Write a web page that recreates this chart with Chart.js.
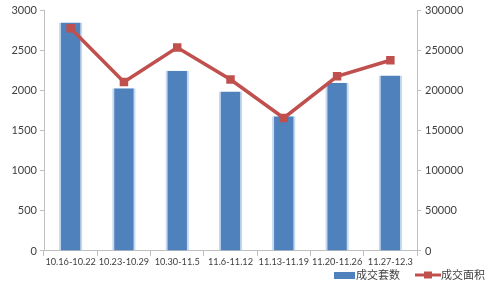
<!DOCTYPE html>
<html>
<head>
<meta charset="utf-8">
<script src="https://cdn.jsdelivr.net/npm/chart.js@4/dist/chart.umd.min.js"></script>
<style>
  html, body { margin: 0; padding: 0; background: #fff; }
  #wrap { width: 493px; height: 289px; }
</style>
</head>
<body>
<div id="wrap"><canvas id="chart" width="493" height="289"></canvas></div>
<script>
const weeks = ['10.16-10.22', '10.23-10.29', '10.30-11.5', '11.6-11.12', '11.13-11.19', '11.20-11.26', '11.27-12.3']
const sets = [2850, 2030, 2250, 1990, 1680, 2100, 2190]
const area = [278000, 211000, 254000, 214000, 166000, 218000, 238000]
const leftTicks = [0, 500, 1000, 1500, 2000, 2500, 3000]
const rightTicks = [0, 50000, 100000, 150000, 200000, 250000, 300000]

const barColor = '#4F81BD'
const lineColor = '#C0504D'
const axisColor = '#BFBFBF'
const textColor = '#404040'
const font = { family: 'Lato, "Noto Sans CJK SC", sans-serif', size: 11 }
const xFont = { family: 'Lato, "Noto Sans CJK SC", sans-serif', size: 9.2 }

// legend in the bottom right corner
const bottomLegend = {
    id: 'bottomLegend',
    afterDraw(chart) {
        const ctx = chart.ctx
        const ds = chart.data.datasets
        const y = 275
        ctx.save()
        ctx.font = '11px "Noto Sans CJK SC", sans-serif'
        ctx.textBaseline = 'middle'
        ctx.fillStyle = barColor
        ctx.fillRect(334, y - 3, 21, 7)
        ctx.fillStyle = textColor
        ctx.fillText(ds[1].label, 356, y)
        ctx.strokeStyle = lineColor
        ctx.lineWidth = 3
        ctx.beginPath()
        ctx.moveTo(415, y)
        ctx.lineTo(441, y)
        ctx.stroke()
        ctx.fillStyle = lineColor
        ctx.fillRect(424, y - 3.5, 8, 7)
        ctx.fillStyle = textColor
        ctx.fillText(ds[0].label, 441, y)
        ctx.restore()
    }
}

const context = document.getElementById('chart').getContext('2d')
const chart = new Chart(context, {
    data: {
        labels: weeks,
        datasets: [
            {
                type: 'line',
                label: '成交面积',
                data: area,
                yAxisID: 'y1',
                borderColor: lineColor,
                backgroundColor: lineColor,
                borderWidth: 3.5,
                pointStyle: 'rect',
                pointRadius: 6,
                pointBorderWidth: 0,
                order: 0
            },
            {
                type: 'bar',
                label: '成交套数',
                data: sets,
                yAxisID: 'y',
                backgroundColor: barColor,
                borderColor: '#C6D9F1',
                borderWidth: { left: 2, right: 2, top: 0, bottom: 0 },
                categoryPercentage: 1,
                barPercentage: 0.44,
                order: 1
            }
        ]
    },
    options: {
        responsive: false,
        animation: false,
        layout: { padding: { top: 10, bottom: 20, left: 0, right: 0 } },
        plugins: {
            legend: { display: false },
            tooltip: { enabled: false }
        },
        scales: {
            x: {
                grid: { display: true, drawOnChartArea: false, offset: true, color: axisColor, tickLength: 5 },
                border: { color: axisColor },
                ticks: { color: textColor, font: xFont, maxRotation: 0, autoSkip: false, padding: 1 }
            },
            y: {
                position: 'left',
                min: 0,
                max: 3000,
                afterBuildTicks: (scale) => { scale.ticks = leftTicks.map(v => ({ value: v })) },
                afterFit: (scale) => { scale.width = 44 },
                grid: { drawOnChartArea: false, color: axisColor, tickLength: 4 },
                border: { color: axisColor },
                ticks: { color: textColor, font: font, padding: 3, callback: (v) => String(v) }
            },
            y1: {
                position: 'right',
                min: 0,
                max: 300000,
                afterBuildTicks: (scale) => { scale.ticks = rightTicks.map(v => ({ value: v })) },
                afterFit: (scale) => { scale.width = 76 },
                grid: { drawOnChartArea: false, color: axisColor, tickLength: 4 },
                border: { color: axisColor },
                ticks: { color: textColor, font: font, padding: 4, callback: (v) => String(v) }
            }
        }
    },
    plugins: [bottomLegend]
})
</script>
</body>
</html>
